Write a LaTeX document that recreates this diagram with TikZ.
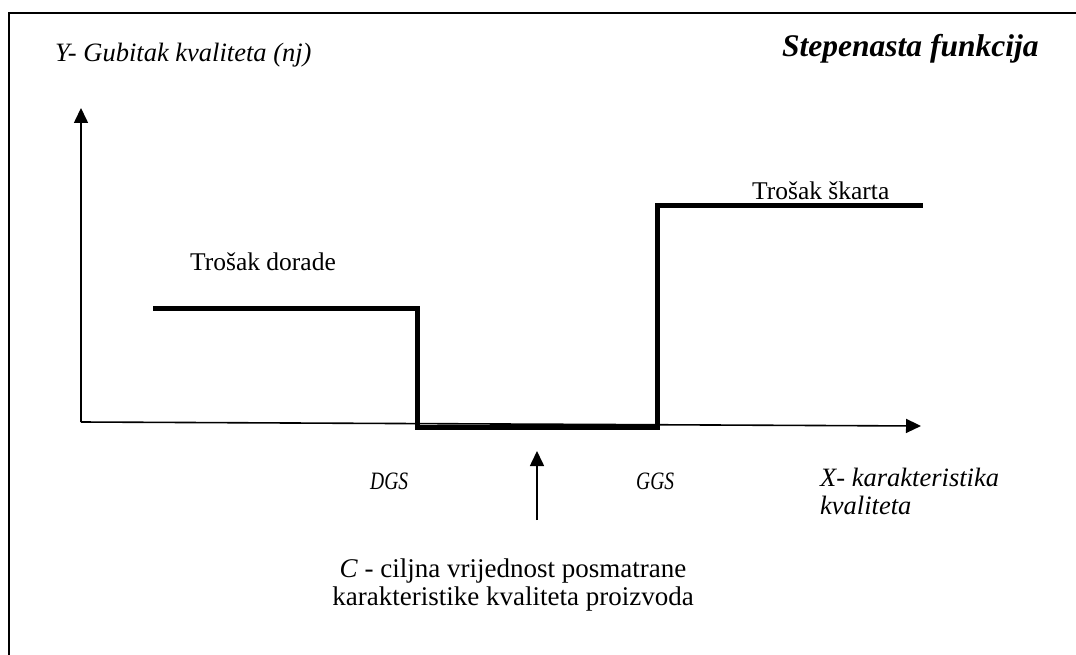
\documentclass[tikz,border=0pt]{standalone}
\usepackage{fontspec}
\setmainfont{Liberation Serif}[
  UprightFont={Liberation Serif},
  ItalicFont={Liberation Serif Italic},
  BoldFont={Liberation Serif Bold},
  BoldItalicFont={Liberation Serif Bold Italic}]
\usetikzlibrary{arrows.meta}
\tikzset{
  frameline/.style={line width=2.5pt},
  axisline/.style={line width=1.6pt,-{Triangle[length=15pt,width=14pt]}},
  stepline/.style={line width=5pt,line cap=rect},
  lbl/.style={inner sep=0pt,anchor=base west,font=\fontsize{26.5}{31}\selectfont\itshape},
  rlbl/.style={inner sep=0pt,anchor=base west,font=\fontsize{25.5}{30}\selectfont},
  gs/.style={inner sep=0pt,anchor=base west,font=\fontsize{25}{29}\selectfont\itshape},
  ctext/.style={inner sep=0pt,anchor=base,font=\fontsize{27}{31}\selectfont}
}
\begin{document}
\begin{tikzpicture}[x=1pt,y=-1pt]
\useasboundingbox (0,0) rectangle (1076,655);
% frame
\coordinate (fb) at (9,656);
\coordinate (ftl) at (9,13);
\coordinate (fr) at (1077,13);
\draw[frameline] (fb) -- (ftl) -- (fr);
% axes
\coordinate (O) at (81,422);
\coordinate (Ytop) at (81,108);
\coordinate (Xend) at (921,426);
\draw[axisline] (O) -- (Ytop);
\draw[axisline] (O) -- (Xend);
% step function
\coordinate (s1) at (155,308);
\coordinate (s2) at (417,308);
\coordinate (s3) at (417,427);
\coordinate (s4) at (657,427);
\coordinate (s5) at (657,206);
\coordinate (s6) at (920,206);
\draw[stepline] (s1) -- (s2) -- (s3) -- (s4) -- (s5) -- (s6);
% target arrow
\coordinate (cb) at (537,520);
\coordinate (ct) at (537,451);
\draw[axisline] (cb) -- (ct);
% texts
\node[lbl] (ylab) at (55,62) {Y- Gubitak kvaliteta (nj)};
\node[inner sep=0pt,anchor=base west,font=\fontsize{31.5}{35}\selectfont\bfseries\itshape] (title) at (782,57) {Stepenasta funkcija};
\node[rlbl] (dor) at (190,270) {Trošak dorade};
\node[rlbl] (ska) at (752,200) {Trošak škarta};
\node[gs] (dgs) at (370,489) {\scalebox{0.78}[1]{DGS}};
\node[gs] (ggs) at (636,489) {\scalebox{0.78}[1]{GGS}};
\node[lbl] (xlab) at (820,486) {X- karakteristika};
\node[lbl] (xlab2) at (820,514) {kvaliteta};
\node[ctext] (c1) at (513,577) {\textit{C} - ciljna vrijednost posmatrane};
\node[ctext] (c2) at (513,605) {karakteristike kvaliteta proizvoda};
\end{tikzpicture}
\end{document}
